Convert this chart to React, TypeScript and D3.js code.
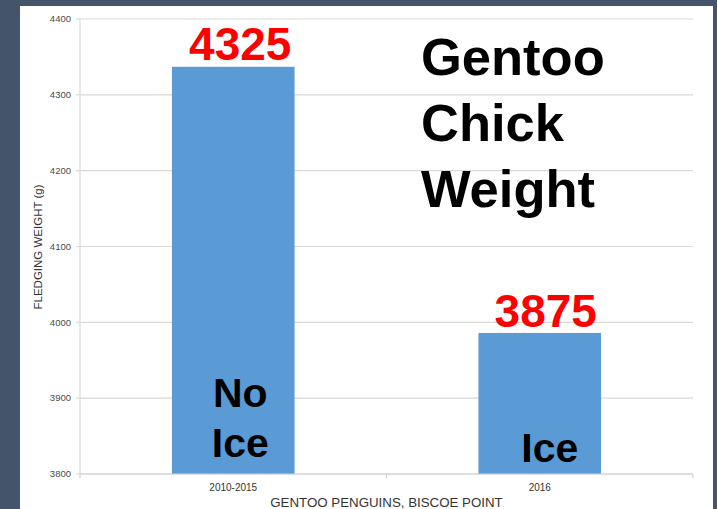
import React from "react";
import * as d3 from "d3";

const categories = ["2010-2015", "2016"];
const barValues = [4337, 3986];
const valueLabels = ["4325", "3875"];
const yTicks = [3800, 3900, 4000, 4100, 4200, 4300, 4400];
const titleLines = ["Gentoo", "Chick", "Weight"];
const insideLabels = [["No", "Ice"], ["Ice"]];

const W = 717;
const H = 509;
const FONT = "'Liberation Sans', Arial, sans-serif";

export default function App() {
  const left = 80, right = 693, top = 19, bottom = 474;
  const x = d3.scaleBand<string>().domain(categories).range([left, right]).paddingInner(0.6).paddingOuter(0.3);
  const y = d3.scaleLinear().domain([3800, 4400]).range([bottom, top]);
  const bw = x.bandwidth();

  const valueOffsets = [7, 6];
  const valueBaselines = [60, 327];
  const insideOffsets = [7, 10];
  const insideBaselines = [407, 462];

  return (
    <svg width={W} height={H} style={{ position: "absolute", left: 0, top: 0 }} fontFamily={FONT}>
      <rect x={0} y={0} width={W} height={H} fill="#44546a" />
      <rect x={20} y={6} width={693} height={H - 6} fill="#ffffff" />
      {yTicks.map((t) => (
        <g key={t}>
          <line x1={left} x2={right} y1={y(t)} y2={y(t)} stroke="#d9d9d9" strokeWidth={1.2} />
          <line x1={left - 4} x2={left} y1={y(t)} y2={y(t)} stroke="#d9d9d9" strokeWidth={1.2} />
          <text x={left - 9} y={y(t)} dy="0.35em" textAnchor="end" fontSize={9.5} fill="#4a4a4a">{t}</text>
        </g>
      ))}
      <line x1={left} x2={left} y1={top} y2={bottom} stroke="#d9d9d9" strokeWidth={1.2} />
      {categories.map((c, i) => (
        <rect key={c} x={x(c)!} y={y(barValues[i])} width={bw} height={bottom - y(barValues[i])} fill="#5b9bd5" />
      ))}
      <line x1={left} x2={right} y1={bottom} y2={bottom} stroke="#d0d0d0" strokeWidth={1.2} />
      {[left, (left + right) / 2, right].map((tx, k) => (
        <line key={k} x1={tx} x2={tx} y1={bottom} y2={bottom + 4} stroke="#d0d0d0" strokeWidth={1.2} />
      ))}
      {categories.map((c) => (
        <text key={c} x={x(c)! + bw / 2} y={491} textAnchor="middle" fontSize={10} fill="#333333">{c}</text>
      ))}
      <text x={(left + right) / 2} y={507} textAnchor="middle" fontSize={13.3} fill="#333333">GENTOO PENGUINS, BISCOE POINT</text>
      <text transform={`translate(42,247) rotate(-90)`} textAnchor="middle" fontSize={11.5} fill="#333333">FLEDGING WEIGHT (g)</text>
      {categories.map((c, i) => (
        <text key={c} x={x(c)! + bw / 2 + valueOffsets[i]} y={valueBaselines[i]} textAnchor="middle" fontSize={46} fontWeight="bold" fill="#ff0000">{valueLabels[i]}</text>
      ))}
      {insideLabels.map((lines, i) =>
        lines.map((ln, j) => (
          <text key={`${i}-${j}`} x={x(categories[i])! + bw / 2 + insideOffsets[i]} y={insideBaselines[i] + j * 50} textAnchor="middle" fontSize={41} fontWeight="bold" fill="#000000">{ln}</text>
        ))
      )}
      {titleLines.map((ln, j) => (
        <text key={ln} x={421} y={75 + j * 66} fontSize={52.5} fontWeight="bold" fill="#000000">{ln}</text>
      ))}
    </svg>
  );
}
